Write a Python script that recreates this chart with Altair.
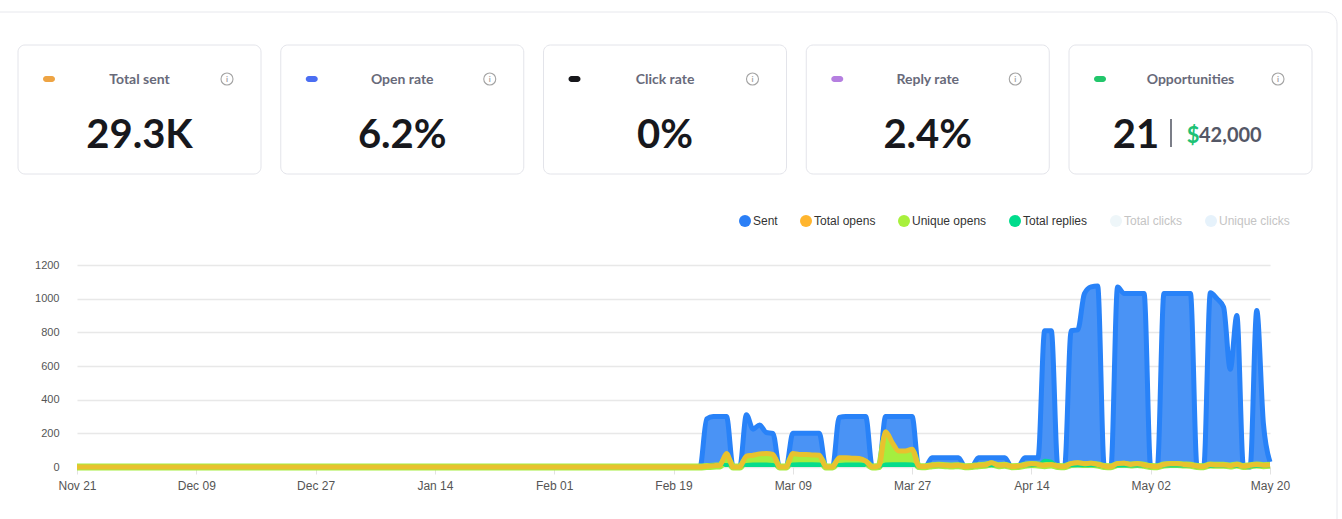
import altair as alt
import pandas as pd

# ---------------------------------------------------------------- KPI cards
CARD_TITLES = ["Total sent", "Open rate", "Click rate", "Reply rate", "Opportunities"]
CARD_VALUES = ["29.3K", "6.2%", "0%", "2.4%", "21"]
CARD_PILLS = ["#eea444", "#4b6ef2", "#17171b", "#b57fe0", "#22c66b"]
OPP_AMOUNT = 42000

# ---------------------------------------------------------------- daily activity
DATES = pd.date_range("2024-11-21", "2025-05-20", freq="D")

SENT = [0] * 94 + [
    0, 285, 300, 300, 300, 0, 0,
    310, 225, 250, 205, 200, 0, 0,
    200, 200, 200, 200, 200, 0, 0,
    295, 300, 300, 300, 300, 0, 0,
    300, 300, 300, 300, 300, 0, 0,
    55, 55, 55, 55, 55, 0, 0,
    55, 55, 55, 55, 55, 0, 0,
    55, 55, 55, 810, 810, 0, 0,
    810, 815, 1030, 1070, 1075, 0, 0,
    1070, 1030, 1030, 1030, 1030, 0, 0,
    1030, 1030, 1030, 1030, 1030, 0, 0,
    1035, 1000, 950, 580, 900, 0, 0,
    930, 260, 30,
]

TOTAL_OPENS = [0] * 94 + [
    0, 5, 8, 10, 80, 0, 0,
    65, 70, 78, 80, 75, 0, 0,
    80, 75, 75, 72, 70, 0, 0,
    55, 55, 52, 50, 35, 0, 5,
    210, 145, 95, 95, 105, 5, 3,
    10, 12, 10, 8, 10, 2, 5,
    10, 12, 25, 10, 12, 3, 5,
    12, 20, 15, 10, 15, 5, 3,
    20, 25, 20, 22, 15, 5, 2,
    20, 22, 15, 20, 12, 5, 3,
    15, 20, 20, 15, 12, 5, 3,
    15, 12, 12, 8, 15, 5, 10,
    15, 10, 12,
]

UNIQUE_OPENS = [0] * 94 + [
    0, 3, 5, 6, 55, 0, 0,
    48, 55, 60, 62, 58, 0, 0,
    62, 58, 58, 55, 55, 0, 0,
    40, 42, 40, 38, 28, 0, 3,
    180, 125, 80, 82, 90, 3, 2,
    8, 10, 8, 6, 8, 2, 3,
    8, 10, 18, 8, 10, 2, 3,
    10, 15, 12, 8, 12, 3, 2,
    15, 18, 15, 16, 12, 3, 2,
    15, 16, 12, 15, 10, 3, 2,
    12, 15, 15, 12, 10, 3, 2,
    12, 10, 10, 6, 12, 3, 8,
    12, 8, 10,
]

TOTAL_REPLIES = [0] * 94 + [
    0, 8, 15, 15, 15, 0, 0,
    15, 18, 18, 18, 15, 0, 0,
    18, 20, 20, 20, 18, 0, 0,
    15, 18, 18, 18, 15, 0, 0,
    18, 20, 20, 20, 18, 0, 0,
    8, 8, 8, 8, 8, 0, 0,
    8, 8, 8, 8, 8, 0, 0,
    8, 8, 10, 40, 35, 0, 0,
    8, 8, 8, 8, 8, 0, 0,
    6, 6, 6, 6, 6, 0, 0,
    6, 6, 6, 6, 6, 0, 0,
    5, 5, 5, 5, 5, 0, 0,
    5, 5, 5,
]

SERIES = ["Sent", "Total opens", "Unique opens", "Total replies", "Total clicks", "Unique clicks"]
SERIES_COLORS = ["#2b7ff6", "#ffb52e", "#a8f03c", "#00dc8c", "#eef6f9", "#e6f2fb"]
HIDDEN_SERIES = ["Total clicks", "Unique clicks"]

X_TICKS = [(2024, 11, 21), (2024, 12, 9), (2024, 12, 27), (2025, 1, 14), (2025, 2, 1),
           (2025, 2, 19), (2025, 3, 9), (2025, 3, 27), (2025, 4, 14), (2025, 5, 2),
           (2025, 5, 20)]
Y_TICKS = [0, 200, 400, 600, 800, 1000, 1200]

AXIS_FONT = "Liberation Sans"
CARD_FONT = "Lato"

df = pd.DataFrame({
    "date": DATES,
    "sent": SENT,
    "opens": TOTAL_OPENS,
    "unique": UNIQUE_OPENS,
    "replies": TOTAL_REPLIES,
})

tick_dates = [alt.DateTime(year=y, month=m, date=d) for y, m, d in X_TICKS]

x_enc = alt.X(
    "date:T",
    title=None,
    scale=alt.Scale(domain=[tick_dates[0], tick_dates[-1]]),
    axis=alt.Axis(
        values=tick_dates, format="%b %d", grid=False, domain=False,
        ticks=True, tickSize=7, tickColor="#e2e2e2", labelPadding=6,
        labelFont=AXIS_FONT, labelFontSize=12, labelColor="#555555",
        labelFlush=False, labelOverlap=False,
    ),
)

y_axis = alt.Axis(
    values=Y_TICKS, format="d", grid=True, gridColor="#e8e8e8", gridWidth=1.3,
    domain=False, ticks=False, labelPadding=18, labelFont=AXIS_FONT,
    labelFontSize=11, labelColor="#555555",
)
y_scale = alt.Scale(domain=[0, 1200], nice=False)


def y_of(field):
    return alt.Y(f"{field}:Q", title=None, scale=y_scale, axis=y_axis)


base = alt.Chart(df).encode(x=x_enc)

sent_area = base.mark_area(color="#4a93f5", interpolate="monotone").encode(y=y_of("sent"))
sent_line = base.mark_line(color="#2882f8", strokeWidth=5, interpolate="monotone",
                           strokeJoin="round").encode(y=y_of("sent"))
opens_area = base.mark_area(color="#ecc93a", opacity=0.55,
                            interpolate="monotone").encode(y=y_of("opens"))
unique_area = base.mark_area(color="#a5ee3f", interpolate="monotone").encode(y=y_of("unique"))
replies_area = base.mark_area(color="#06dc8c", interpolate="monotone").encode(y=y_of("replies"))
unique_line = base.mark_line(color="#a5ee3f", strokeWidth=7,
                             interpolate="monotone").encode(y=y_of("unique"))
replies_line = base.mark_line(color="#06dc8c", strokeWidth=3,
                              interpolate="monotone").encode(y=y_of("replies"))
opens_line = base.mark_line(color="#e8c22e", strokeWidth=5, interpolate="monotone",
                            strokeJoin="round").encode(y=y_of("opens"))

# ---------------------------------------------------------------- legend
legend_df = pd.DataFrame({"series": SERIES})
hidden_test = " || ".join(f"datum.label == '{s}'" for s in HIDDEN_SERIES)
legend_layer = alt.Chart(legend_df).mark_circle(opacity=0).encode(
    color=alt.Color(
        "series:N",
        scale=alt.Scale(domain=SERIES, range=SERIES_COLORS),
        legend=alt.Legend(
            title=None, orient="none", legendX=662, legendY=-50,
            direction="horizontal", symbolType="circle", symbolSize=144,
            symbolOpacity=1, symbolStrokeWidth=0, labelFont=AXIS_FONT,
            labelFontSize=12, labelOffset=2, columnPadding=22, padding=0,
            labelColor=alt.ExprRef(expr=f"({hidden_test}) ? '#c4c4c4' : '#333333'"),
        ),
    )
)

# ---------------------------------------------------------------- cards
cards_df = pd.DataFrame({
    "slot": list(range(len(CARD_TITLES))),
    "title": CARD_TITLES,
    "value": CARD_VALUES,
    "pill": CARD_PILLS,
})

card_left = "(datum.slot * 262.75 - 59)"
cards = alt.Chart(cards_df).transform_calculate(
    left=card_left,
    right=f"{card_left} + 243",
    pill_a=f"{card_left} + 25",
    pill_b=f"{card_left} + 37",
    mid=f"{card_left} + 121.5",
    info=f"{card_left} + 209",
    num=f"datum.slot == 4 ? {card_left} + 67 : {card_left} + 121.5",
)

frame = alt.Chart(pd.DataFrame({"k": [0]})).mark_rect(
    fill="transparent", stroke="#e7e8ed", strokeWidth=1, cornerRadius=12
).encode(x=alt.value(-177), x2=alt.value(1260), y=alt.value(-253), y2=alt.value(400))

card_box = cards.mark_rect(fill="white", stroke="#e3e4ea", strokeWidth=1, cornerRadius=7).encode(
    x=alt.X("left:Q", scale=None), x2="right:Q", y=alt.value(-220), y2=alt.value(-91)
)
card_pill = cards.mark_rect(cornerRadius=3).encode(
    x=alt.X("pill_a:Q", scale=None), x2="pill_b:Q", y=alt.value(-189), y2=alt.value(-183),
    fill=alt.Fill("pill:N", scale=None),
)
card_title = cards.mark_text(
    font=CARD_FONT, fontSize=14, fontWeight="bold", color="#686a7a",
    align="center", baseline="middle",
).encode(x=alt.X("mid:Q", scale=None), y=alt.value(-185.5), text="title:N")
card_info = cards.mark_point(shape="circle", size=144, filled=False, color="#a3a3a3",
                             strokeWidth=1.1, opacity=1).encode(
    x=alt.X("info:Q", scale=None), y=alt.value(-186)
)
card_info_i = cards.mark_text(text="i", font=CARD_FONT, fontSize=8, fontWeight="bold",
                              color="#a3a3a3", align="center", baseline="middle").encode(
    x=alt.X("info:Q", scale=None), y=alt.value(-185.5)
)
card_value = cards.mark_text(
    font=CARD_FONT, fontSize=40, fontWeight="bold", color="#17181d",
    align="center", baseline="alphabetic",
).encode(x=alt.X("num:Q", scale=None), y=alt.value(-117), text="value:N")

one = alt.Chart(pd.DataFrame({"k": [0]}))
opp_sep = one.mark_rule(color="#5a5d6a", strokeWidth=1.6).encode(
    x=alt.value(1094), y=alt.value(-146), y2=alt.value(-118)
)
opp_dollar = one.mark_text(font=CARD_FONT, fontSize=22, fontWeight="bold", color="#1ec275",
                           align="center", baseline="alphabetic").encode(
    x=alt.value(1116), y=alt.value(-122), text=alt.value("$")
)
opp_amount = one.mark_text(font=CARD_FONT, fontSize=20, fontWeight="bold", color="#545766",
                           align="left", baseline="alphabetic").encode(
    x=alt.value(1122), y=alt.value(-123), text=alt.value(f"{OPP_AMOUNT:,}")
)

chart = alt.layer(
    frame, card_box, card_pill, card_title, card_info, card_info_i, card_value,
    opp_sep, opp_dollar, opp_amount,
    sent_area, sent_line, opens_area, unique_area, replies_area,
    unique_line, replies_line, opens_line, legend_layer,
).properties(
    width=1193,
    height=202,
    padding={"left": 77, "top": 265, "right": 72, "bottom": 52},
    autosize=alt.AutoSizeParams(type="none"),
    background="white",
).configure_view(stroke=None)

chart.save("out.html", embed_options={"renderer": "svg", "actions": False})
